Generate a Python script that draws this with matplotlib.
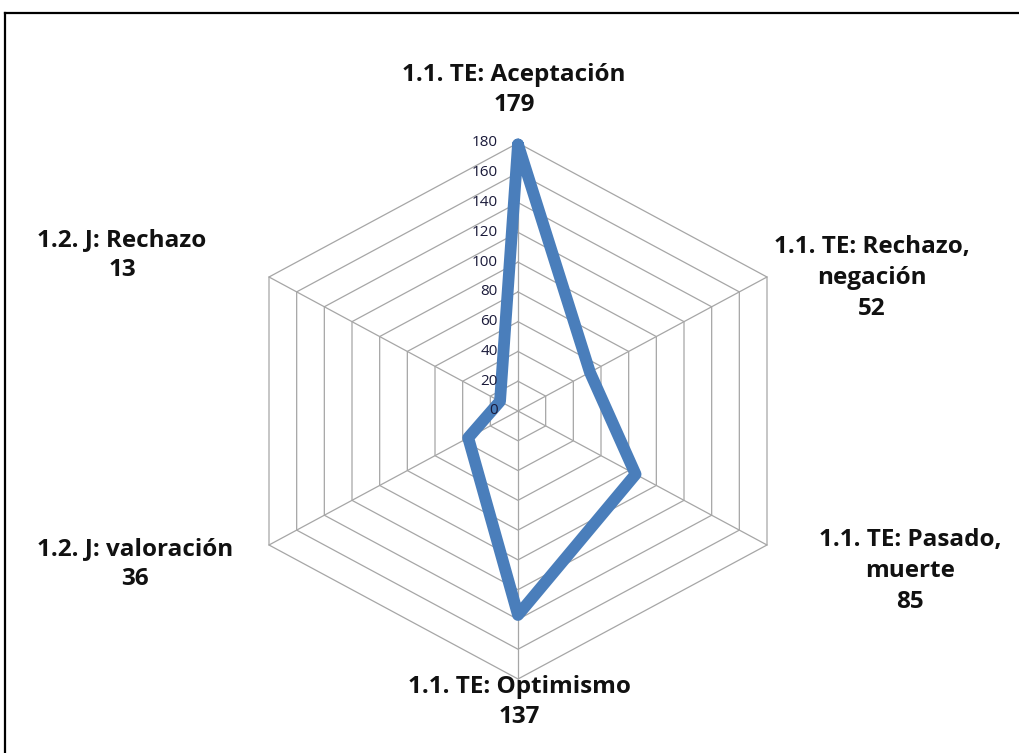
import numpy as np
import matplotlib.pyplot as plt
from matplotlib.lines import Line2D

categories = ["1.1. TE: Aceptación", "1.1. TE: Rechazo,\nnegación", "1.1. TE: Pasado,\nmuerte",
              "1.1. TE: Optimismo", "1.2. J: valoración", "1.2. J: Rechazo"]
values = [179, 52, 85, 137, 36, 13]
ticks = [0, 20, 40, 60, 80, 100, 120, 140, 160, 180]

W, H = 1019, 753
cx, cy = 518, 342          # centre in pixels from bottom-left
sx, sy = 249 / (180 * np.cos(np.pi / 6)), 268 / 180   # px per unit (chart is stretched sideways)

fig = plt.figure(figsize=(W / 100, H / 100), dpi=100)
ax = fig.add_axes([0, 0, 1, 1])
ax.set_xlim(-cx / sx, (W - cx) / sx)
ax.set_ylim(-cy / sy, (H - cy) / sy)
ax.axis('off')

n = len(categories)
ang = np.pi / 2 - np.arange(n) * 2 * np.pi / n
ux, uy = np.cos(ang), np.sin(ang)

# hexagonal grid
for t in ticks[1:]:
    ax.plot(np.append(ux, ux[0]) * t, np.append(uy, uy[0]) * t, color='#a6a6a6', lw=0.9, zorder=1)
for i in range(n):
    ax.plot([0, ux[i] * 180], [0, uy[i] * 180], color='#a6a6a6', lw=0.9, zorder=1)

# value ticks
for t in ticks:
    ax.text(-20 / sx, t, str(t), ha='right', va='center', fontsize=11, color='#1a1a3a',
            family='Open Sans', zorder=3)

# data series
v = np.array(values)
ax.plot(np.append(ux * v, ux[0] * v[0]), np.append(uy * v, uy[0] * v[0]),
        color='#4a7ebb', lw=8.5, solid_joinstyle='round', solid_capstyle='round', zorder=2)

# category labels (pixel positions of label centres)
label_pos = [(514, 663), (872, 475), (910, 182), (519, 51), (135, 189), (122, 498)]
for (px, py), cat, val in zip(label_pos, categories, values):
    ax.text((px - cx) / sx, (py - cy) / sy, f"{cat}\n{val}", ha='center', va='center',
            fontsize=17.5, fontweight='bold', family='Open Sans', linespacing=1.38, color='#111111')

# frame
fig.add_artist(Line2D([4.5 / W, 4.5 / W], [0, 1 - 12.5 / H], color='black', lw=1.6,
                      transform=fig.transFigure))
fig.add_artist(Line2D([4.5 / W, 1], [1 - 12.5 / H, 1 - 12.5 / H], color='black', lw=1.6,
                      transform=fig.transFigure))

fig.savefig('out.png', dpi=100)
